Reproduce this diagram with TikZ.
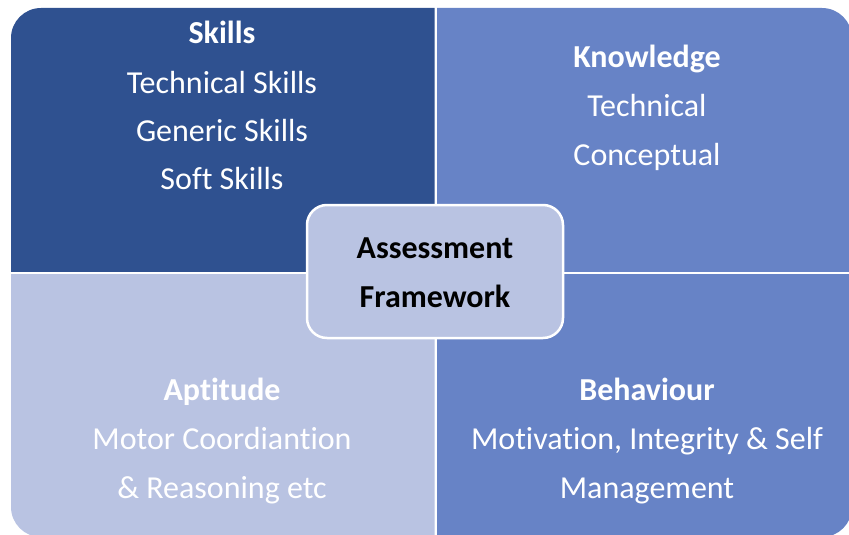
\documentclass[tikz,border=0pt]{standalone}
\usepackage{fontspec}
\setmainfont[Ligatures=NoCommon]{Carlito}
\definecolor{qdark}{HTML}{2F5190}
\definecolor{qmid}{HTML}{6783C6}
\definecolor{qlight}{HTML}{B9C3E2}
\begin{document}
\begin{tikzpicture}[x=1pt,y=-1pt,
  qtext/.style={text=white,font=\fontsize{32}{38}\selectfont,anchor=base,inner sep=0pt},
  qtitle/.style={qtext,font=\fontsize{32}{38}\selectfont\bfseries},
  ctext/.style={text=black,font=\fontsize{32}{38}\selectfont\bfseries,anchor=base,inner sep=0pt}]
\useasboundingbox (0,0) rectangle (849,535);
% quadrants
\begin{scope}\clip (11,8) rectangle (434.5,271.5);
  \fill[qdark,rounded corners=30pt] (11,8) rectangle (600,400);\end{scope}
\begin{scope}\clip (437,8) rectangle (852,271.5);
  \fill[qmid,rounded corners=30pt] (300,8) rectangle (852,400);\end{scope}
\begin{scope}\clip (11,274) rectangle (434.5,537);
  \fill[qlight,rounded corners=30pt] (11,150) rectangle (600,537);\end{scope}
\begin{scope}\clip (437,274) rectangle (852,537);
  \fill[qmid,rounded corners=30pt] (300,150) rectangle (852,537);\end{scope}
% centre box
\node[draw=white,line width=2.5pt,fill=qlight,rounded corners=20pt,
  minimum width=256pt,minimum height=133pt,inner sep=0pt] (centre) at (435,271.5) {};
\node[ctext] (c1) at (435,258.5) {Assessment};
\node[ctext] (c2) at (435,307.5) {Framework};
% top left
\node[qtitle] (s0) at (222,43.5) {Skills};
\node[qtext] (s1) at (222,93.5) {Technical Skills};
\node[qtext] (s2) at (222,141.5) {Generic Skills};
\node[qtext] (s3) at (222,189.5) {Soft Skills};
% top right
\node[qtitle] (k0) at (647,67.5) {Knowledge};
\node[qtext] (k1) at (647,116.5) {Technical};
\node[qtext] (k2) at (647,165.5) {Conceptual};
% bottom left
\node[qtitle] (a0) at (222,400.5) {Aptitude};
\node[qtext] (a1) at (222,449.5) {Motor Coordiantion};
\node[qtext] (a2) at (222,498.5) {\& Reasoning etc};
% bottom right
\node[qtitle] (b0) at (647,400.5) {Behaviour};
\node[qtext] (b1) at (647,449.5) {Motivation, Integrity \& Self};
\node[qtext] (b2) at (647,498.5) {Management};
\end{tikzpicture}
\end{document}
